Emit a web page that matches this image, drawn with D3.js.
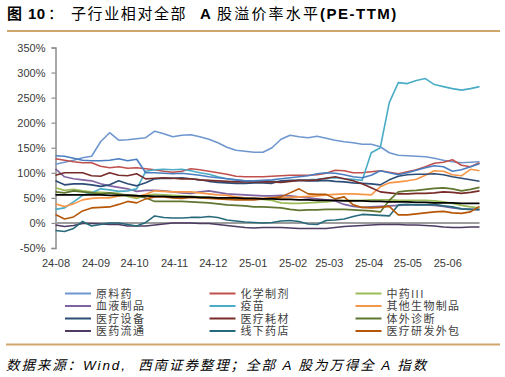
<!DOCTYPE html>
<html><head><meta charset="utf-8">
<script src="https://cdn.jsdelivr.net/npm/d3@7"></script>
<style>body{margin:0;background:#fff;}svg{display:block;}</style>
</head><body>
<svg id="c" width="505" height="377"></svg>
<script>
// ---------- data ----------
const dates = ["2024-08-02","2024-08-09","2024-08-16","2024-08-23","2024-08-30",
"2024-09-06","2024-09-13","2024-09-20","2024-09-27",
"2024-10-04","2024-10-11","2024-10-18","2024-10-25",
"2024-11-01","2024-11-08","2024-11-15","2024-11-22","2024-11-29",
"2024-12-06","2024-12-13","2024-12-20","2024-12-27",
"2025-01-03","2025-01-10","2025-01-17","2025-01-24","2025-01-31",
"2025-02-07","2025-02-14","2025-02-21","2025-02-28",
"2025-03-07","2025-03-14","2025-03-21","2025-03-28",
"2025-04-04","2025-04-11","2025-04-18","2025-04-25",
"2025-05-02","2025-05-09","2025-05-16","2025-05-23","2025-05-30",
"2025-06-06","2025-06-13","2025-06-20","2025-06-27"];

const xTickLabels = ["24-08","24-09","24-10","24-11","24-12","25-01","25-02","25-03","25-04","25-05","25-06"];
const yTickValues = [-50,0,50,100,150,200,250,300,350];

const seriesNames = ["原料药","化学制剂","中药III","血液制品","疫苗","其他生物制品","医疗设备","医疗耗材","体外诊断","医药流通","线下药店","医疗研发外包"];

const yuanliaoyao = [117,121,125,130,133,162,180,165,166,168,170,183,178,172,175,176,172,167,160,151,145,143,141,141,150,167,175,172,170,173,169,165,162,160,157,157,152,140,135,134,133,132,129,125,122,120,121,122];
const huaxuezhiji = [128,125,122,120,120,113,110,112,109,110,108,106,103,101,103,108,106,103,100,97,93,92,92,92,93,94,95,95,95,96,99,105,104,100,100,102,104,101,98,102,106,112,119,121,126,115,112,120];
const zhongyao = [70,65,67,64,62,61,60,59,53,49,55,57,56,55,54,53,52,51,50,50,49,48,48,47,45,40,39,39,40,41,42,44,45,45,45,46,46,46,45,45,45,45,44,42,39,35,32,30];
const xueye = [108,92,88,86,84,78,74,71,68,63,65,65,64,62,60,59,62,64,61,58,57,56,55,54,54,55,54,52,50,48,46,44,37,33,31,32,33,34,35,36,36,36,35,33,30,28,27,26];
const yimiao = [27,30,42,55,60,68,66,63,64,68,103,106,107,106,107,104,100,97,92,88,86,84,83,84,83,82,84,85,86,87,89,90,88,87,85,140,150,240,280,278,284,288,276,272,268,265,268,272];
const qitasw = [38,33,38,46,49,50,50,54,56,52,57,64,63,62,62,62,60,58,56,55,52,50,49,49,50,50,51,52,53,54,56,57,58,58,57,56,72,80,82,84,87,95,104,103,96,94,107,104];
const yiliaosb = [84,76,78,78,76,73,76,84,78,74,80,88,89,89,90,88,86,83,81,80,79,79,80,80,79,84,85,85,84,84,85,83,82,80,79,78,76,86,93,96,97,97,98,96,92,89,86,83];
const yiliaohc = [95,100,100,100,94,93,100,95,94,98,88,89,90,89,88,88,86,85,84,83,82,82,82,82,82,81,83,85,85,86,89,92,88,84,78,70,62,60,58,58,59,59,60,62,61,59,61,64];
const tiwaizd = [62,60,64,62,60,58,60,57,56,55,50,43,43,43,43,42,41,40,38,36,35,34,32,32,31,30,27,25,26,26,27,27,27,26,25,24,22,45,62,64,65,67,69,70,68,64,67,71];
const yiyaolt = [-4,-7,-5,-1,-1,-2,-3,-3,-6,-6,-6,-4,-2,0,0,0,-1,-1,-3,-5,-7,-9,-10,-9,-9,-9,-10,-11,-11,-11,-11,-9,-7,-6,-5,-4,-3,-3,-3,-4,-4,-5,-6,-8,-9,-9,-8,-8];
const xianxiayd = [-15,-17,-11,3,-6,-3,0,0,-3,-6,1,14,11,10,10,11,11,13,11,6,4,2,1,0,1,4,5,3,-2,-3,5,6,8,13,17,16,15,14,36,37,36,36,37,34,32,28,27,27];
const yanfawb = [17,8,12,24,30,31,32,37,43,40,48,52,52,50,49,51,50,49,48,47,46,46,46,48,50,52,60,68,58,57,57,48,52,36,31,30,31,33,16,16,18,20,22,23,20,19,22,33];
// two extra series drawn in the chart without a legend entry
const extraBlue = [134,133,129,125,124,124,125,128,124,127,100,100,99,98,99,97,95,92,90,88,86,84,84,85,86,88,90,92,94,98,100,99,96,92,90,95,104,100,96,100,105,110,114,112,103,106,112,118];
const blackLine = [56,56,56,56,56,56,55,55,55,54,54,53,53,52,52,52,51,51,50,50,50,49,49,48,48,47,47,46,46,45,45,45,44,44,44,43,43,42,42,42,41,41,40,40,40,39,39,39];

const seriesValues = [yuanliaoyao,huaxuezhiji,zhongyao,xueye,yimiao,qitasw,yiliaosb,yiliaohc,tiwaizd,yiyaolt,xianxiayd,yanfawb];
const seriesColors = ["#6F97CF","#C0504D","#9BBB59","#8064A2","#4BACC6","#F79646","#2C4D75","#772C2A","#5F7530","#4D3B62","#276A7C","#B65708"];

// ---------- chart ----------
const svg = d3.select("#c");
const parse = d3.timeParse("%Y-%m-%d");
const dts = dates.map(parse);

const x = d3.scaleTime().domain([dts[0], dts[dts.length-1]]).range([55.5, 479.5]);
const y = d3.scaleLinear().domain([-50, 350]).range([248, 47.5]);

const CJK = "'Noto Sans CJK SC'";
const LAT = "'Liberation Sans', Arial, sans-serif";

// title
const titleParts = [
  {t: "图", x: 7, f: CJK, w: "bold", ls: 0},
  {t: "10", x: 28, f: LAT, w: "bold", ls: 0.5},
  {t: "：", x: 48, f: CJK, w: "normal", ls: 0},
  {t: "子行业相对全部", x: 71, f: CJK, w: "normal", ls: 1.6},
  {t: "A", x: 200, f: LAT, w: "bold", ls: 0},
  {t: "股溢价率水平", x: 217, f: CJK, w: "normal", ls: 2.2},
  {t: "(PE-TTM)", x: 320, f: LAT, w: "bold", ls: 1.5}
];
const title = svg.append("text").attr("y", 19).style("font-size", "15px").attr("fill", "#000");
titleParts.forEach(p => title.append("tspan").attr("x", p.x).text(p.t)
  .style("font-family", p.f).style("font-weight", p.w).style("letter-spacing", p.ls + "px"));

svg.append("line").attr("x1", 7).attr("x2", 500).attr("y1", 31).attr("y2", 31)
  .attr("stroke", "#D0A66C").attr("stroke-width", 2);

// y axis
const yAxis = d3.axisLeft(y).tickValues(yTickValues).tickSize(4).tickPadding(6)
  .tickFormat(d => d + "%");
const gy = svg.append("g").attr("transform", "translate(55.5,0)").call(yAxis);
gy.select(".domain").attr("stroke", "#8C8C8C").attr("stroke-width", 1.5);
gy.selectAll(".tick line").attr("stroke", "#8C8C8C").attr("stroke-width", 1.2);
gy.selectAll(".tick text").style("font-family", LAT)
  .style("font-size", "11px").attr("fill", "#3A3A3A");

// x labels
const tickDates = xTickLabels.map(s => new Date(2000 + +s.slice(0, 2), +s.slice(3) - 1, 2));
const gx = svg.append("g").attr("transform", "translate(0,248)")
  .call(d3.axisBottom(x).tickValues(tickDates).tickSize(0).tickPadding(11)
    .tickFormat((d, i) => xTickLabels[i]));
gx.select(".domain").remove();
gx.selectAll(".tick text").style("font-family", LAT)
  .style("font-size", "11px").attr("fill", "#3A3A3A");

// zero line (category axis)
svg.append("line").attr("x1", x.range()[0]).attr("x2", x.range()[1])
  .attr("y1", y(0)).attr("y2", y(0)).attr("stroke", "#9E9E9E").attr("stroke-width", 2);

const line = d3.line().x((d, i) => x(dts[i])).y(d => y(d));

const drawOrder = [];
seriesValues.forEach((v, i) => drawOrder.push({v, c: seriesColors[i]}));
drawOrder.push({v: extraBlue, c: "#4A7EC0"});
drawOrder.push({v: blackLine, c: "#000000"});

svg.append("g").selectAll("path").data(drawOrder).join("path")
  .attr("d", d => line(d.v)).attr("fill", "none")
  .attr("stroke", d => d.c).attr("stroke-width", 1.6)
  .attr("stroke-linejoin", "round");

// legend
const legCols = [65, 209.5, 355.5];
const legRows = [293.5, 306, 318.5, 331];
const leg = svg.append("g");
seriesNames.forEach((name, i) => {
  const cx = legCols[i % 3], cy = legRows[Math.floor(i / 3)];
  leg.append("line").attr("x1", cx).attr("x2", cx + 26).attr("y1", cy).attr("y2", cy)
    .attr("stroke", seriesColors[i]).attr("stroke-width", 2);
  leg.append("text").attr("x", cx + 31).attr("y", cy + 4).text(name)
    .style("font-family", CJK).style("font-size", "11px")
    .style("letter-spacing", "1.3px").attr("fill", "#404040");
});

svg.append("line").attr("x1", 6).attr("x2", 500).attr("y1", 344.5).attr("y2", 344.5)
  .attr("stroke", "#D0A66C").attr("stroke-width", 2);

// source
const srcParts = [
  {t: "数据来源：", f: CJK},
  {t: "Wind,  ", f: LAT},
  {t: "西南证券整理；全部", f: CJK},
  {t: " A ", f: LAT},
  {t: "股为万得全", f: CJK},
  {t: " A ", f: LAT},
  {t: "指数", f: CJK}
];
const src = svg.append("text").attr("x", 6).attr("y", 370)
  .style("font-size", "13.5px").style("font-style", "italic").style("white-space", "pre")
  .style("letter-spacing", "1.9px").attr("fill", "#000");
srcParts.forEach(p => src.append("tspan").text(p.t).style("font-family", p.f));
</script>
</body></html>
